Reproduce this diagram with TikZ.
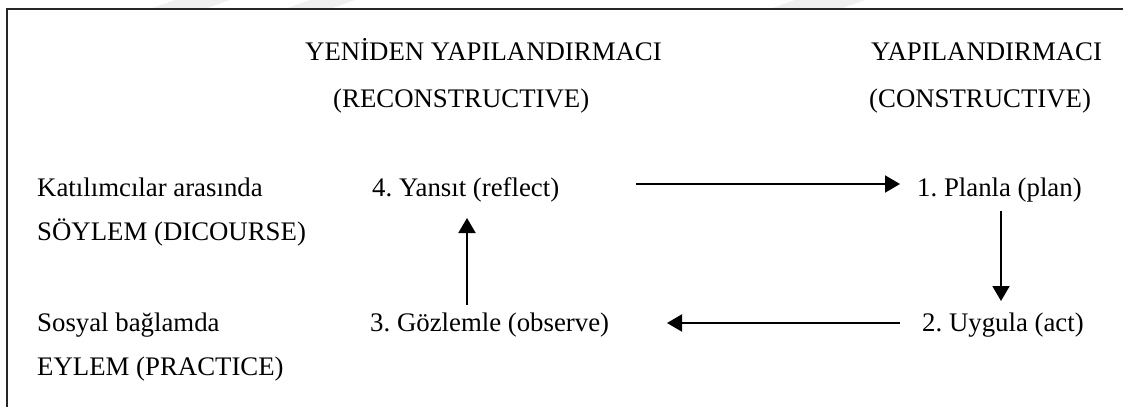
\documentclass[tikz,border=0pt]{standalone}
\usepackage{fontspec}
\setmainfont{Liberation Serif}
\frenchspacing
\usetikzlibrary{arrows.meta}
\begin{document}
\begin{tikzpicture}[x=1pt,y=-1pt,
  lbl/.style={anchor=base west,inner sep=0pt,font=\fontsize{26.8}{30}\selectfont},
  frame/.style={line width=1.6pt,black!85},
  flow/.style={line width=2pt,-{Triangle[length=15pt,width=17pt]}}]
  \useasboundingbox (0,0) rectangle (1129,407);
  % faint watermark bands along the top edge
  \fill[black!6] (175,0) -- (230,0) -- (205,9) -- (150,9) -- cycle;
  \fill[black!6] (310,0) -- (355,0) -- (330,9) -- (285,9) -- cycle;
  \fill[black!6] (795,0) -- (865,0) -- (840,9) -- (770,9) -- cycle;
  % open frame: top edge and left edge
  \draw[frame] (1123,9) -- (7,9) -- (7,407);
  % column headings
  \node[lbl] (h1) at (305,60) {YENİDEN YAPILANDIRMACI};
  \node[lbl] (h2) at (333,107) {(RECONSTRUCTIVE)};
  \node[lbl] (h3) at (871,60) {YAPILANDIRMACI};
  \node[lbl] (h4) at (869,107) {(CONSTRUCTIVE)};
  % row headings
  \node[lbl] (r1a) at (37,196) {Katılımcılar arasında};
  \node[lbl] (r1b) at (37,240) {SÖYLEM (DICOURSE)};
  \node[lbl] (r2a) at (37,331) {Sosyal bağlamda};
  \node[lbl] (r2b) at (37,375) {EYLEM (PRACTICE)};
  % cycle steps
  \node[lbl] (s4) at (372,196) {4. Yansıt (reflect)};
  \node[lbl] (s1) at (917,196) {1. Planla (plan)};
  \node[lbl] (s3) at (370,331) {3. Gözlemle (observe)};
  \node[lbl] (s2) at (922,331) {2. Uygula (act)};
  % arrow end points
  \coordinate (a1) at (636,184);
  \coordinate (b1) at (900,184);
  \coordinate (a2) at (1001,211);
  \coordinate (b2) at (1001,301);
  \coordinate (a3) at (900,323);
  \coordinate (b3) at (667,323);
  \coordinate (a4) at (467,305);
  \coordinate (b4) at (467,218);
  \draw[flow] (a1) -- (b1);
  \draw[flow] (a2) -- (b2);
  \draw[flow] (a3) -- (b3);
  \draw[flow] (a4) -- (b4);
\end{tikzpicture}
\end{document}
